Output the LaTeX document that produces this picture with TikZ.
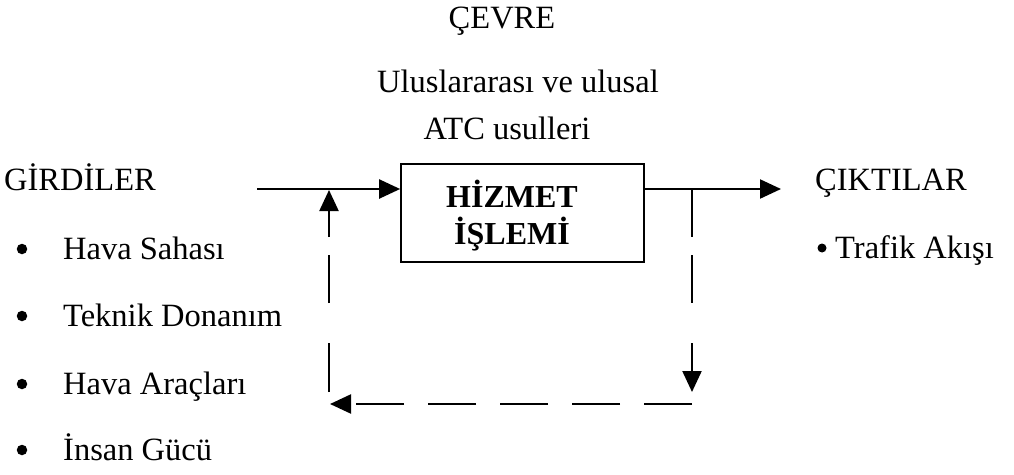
\documentclass[tikz,border=0pt]{standalone}
\usepackage{fontspec}
\setmainfont{Liberation Serif}
\usetikzlibrary{arrows.meta}
\begin{document}
\begin{tikzpicture}[x=1pt,y=-1pt,
  txt/.style={inner sep=0pt,font=\fontsize{32.5}{38}\selectfont},
  btxt/.style={inner sep=0pt,font=\fontsize{32}{38}\selectfont\bfseries},
  dot/.style={circle,fill,inner sep=0pt,minimum size=10.5pt},
  sdot/.style={circle,fill,inner sep=0pt,minimum size=9pt},
  conn/.style={line width=2.2pt,-{Triangle[length=21pt,width=19pt]}},
  boxst/.style={draw,line width=1.7pt,minimum width=243pt,minimum height=98pt,inner sep=0pt}]
\useasboundingbox (0,0) rectangle (1014,474);
% texts
\node[txt,anchor=base] (cevre) at (502,28) {ÇEVRE};
\node[txt,anchor=base] (ulus) at (518,92) {Uluslararası ve ulusal};
\node[txt,anchor=base] (atc) at (507,139) {ATC usulleri};
\node[txt,anchor=base west] (gird) at (4,190) {GİRDİLER};
\node[dot] (b1) at (22,249) {};
\node[txt,anchor=base west] (i1) at (63,259) {Hava Sahası};
\node[dot] (b2) at (22,316) {};
\node[txt,anchor=base west] (i2) at (63,326) {Teknik Donanım};
\node[dot] (b3) at (22,384) {};
\node[txt,anchor=base west] (i3) at (63,394) {Hava Araçları};
\node[dot] (b4) at (22,450) {};
\node[txt,anchor=base west] (i4) at (63,460) {İnsan Gücü};
\node[txt,anchor=base west] (cikt) at (815,190) {ÇIKTILAR};
\node[sdot] (b5) at (822,248) {};
\node[txt,anchor=base west] (o1) at (835,258) {Trafik Akışı};
% box
\node[boxst] (box) at (522.5,213) {};
\node[btxt,anchor=base] (h1) at (512,207) {HİZMET};
\node[btxt,anchor=base] (h2) at (512,244) {İŞLEMİ};
% coordinates
\coordinate (inA) at (257,189);
\coordinate (outB) at (781,189);
\coordinate (rTop) at (692,189);
\coordinate (rBot) at (692,392);
\coordinate (bR) at (692,404);
\coordinate (bL) at (330,404);
\coordinate (lBot) at (329,392);
\coordinate (lTop) at (329,190);
% connectors
\draw[conn] (inA) -- (box.west |- inA);
\draw[conn] (box.east |- outB) -- (outB);
\draw[conn,dash pattern=on 48pt off 18pt on 48pt off 40pt on 200pt] (rTop) -- (rBot);
\draw[conn,dash pattern=on 48pt off 24pt] (bR) -- (bL);
\draw[conn,dash pattern=on 49pt off 40pt on 48pt off 18pt on 200pt] (lBot) -- (lTop);
\end{tikzpicture}
\end{document}
